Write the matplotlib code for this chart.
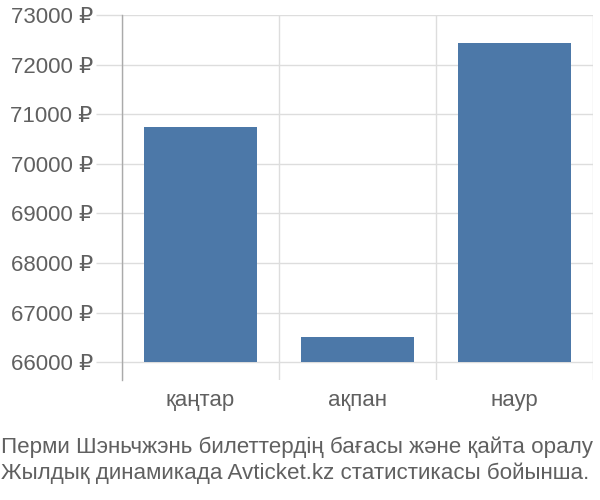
import matplotlib.pyplot as plt
from matplotlib.ticker import FuncFormatter

# ── data ─────────────────────────────────────────────────────────────────────
months = ['қаңтар', 'ақпан', 'наур']
prices = [70750, 66500, 72430]
base = 66000
y_ticks = [66000, 67000, 68000, 69000, 70000, 71000, 72000, 73000]
caption = ['Перми Шэньчжэнь билеттердің бағасы және қайта оралу',
           'Жылдық динамикада Avticket.kz статистикасы бойынша.']

plt.rcParams['font.family'] = ['Liberation Sans', 'DejaVu Sans']
text_col = '#606060'
grid_col = '#dddddd'

fig = plt.figure(figsize=(6, 5), dpi=100)
ax = fig.add_axes([122 / 600, 1 - 380 / 500, (593 - 122) / 600, (380 - 15) / 500])

x = list(range(len(months)))
ax.bar(x, [p - base for p in prices], bottom=base, width=0.72,
       color='#4c78a8', zorder=3)

ax.set_xlim(-0.5, len(months) - 0.5)
ax.set_ylim(65640, 73000)

ax.set_yticks(y_ticks)
ax.yaxis.set_major_formatter(FuncFormatter(lambda v, p: f'{int(v)} ₽'))
ax.set_xticks(x)
ax.set_xticklabels(months)
ax.set_xticks([i - 0.5 for i in range(len(months) + 1)], minor=True)

ax.grid(axis='y', which='major', color=grid_col, linewidth=1, zorder=0)
ax.grid(axis='x', which='minor', color=grid_col, linewidth=1, zorder=0)

ax.tick_params(axis='y', length=19, color=grid_col, width=1, pad=2,
               labelsize=16, labelcolor=text_col)
ax.tick_params(axis='x', which='major', length=0, pad=7,
               labelsize=16, labelcolor=text_col)
ax.tick_params(axis='x', which='minor', length=0)

for side in ['top', 'right', 'bottom']:
    ax.spines[side].set_visible(False)
ax.spines['left'].set_color('#aaaaaa')
ax.spines['left'].set_linewidth(1)

fig.text(1 / 600, 1 - 447 / 500, caption[0], fontsize=16.1, color=text_col,
         ha='left', va='center')
fig.text(1 / 600, 1 - 473 / 500, caption[1], fontsize=16.1, color=text_col,
         ha='left', va='center')

fig.savefig('out.png', dpi=100)
